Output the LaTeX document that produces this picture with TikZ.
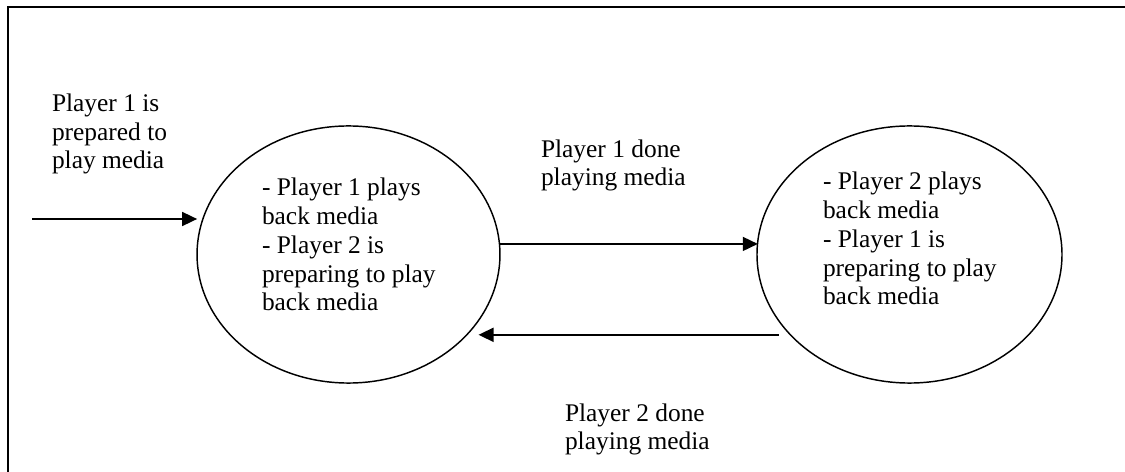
\documentclass[tikz,border=0pt]{standalone}
\usepackage{fontspec}
\setmainfont{Liberation Serif}
\usetikzlibrary{arrows.meta,shapes.geometric}
\begin{document}
\begin{tikzpicture}[x=0.48pt,y=-0.48pt,
  state/.style={draw,ellipse,line width=0.7pt,inner sep=0pt,outer sep=0pt,
    minimum height=123.4pt},
  txt/.style={align=left,inner sep=0pt,outer sep=0pt,anchor=base west,
    font=\fontsize{12.2}{13.9}\selectfont},
  flow/.style={line width=0.85pt,-{Triangle[length=7.2pt,width=6.7pt]}}]
  \useasboundingbox (0,0) rectangle (1125,472);
  % outer frame, running past the right and bottom edges
  \draw[line width=1.2pt] (1140,484) -- (8,484) -- (8,7) -- (1140,7);

  % the two states
  \node[state,minimum width=145.4pt] (e1) at (348.5,254.5) {};
  \node[state,minimum width=146.4pt] (e2) at (909.5,254.5) {};
  % (anchor base west = baseline of the last line)
  \node[txt] (t1) at (262,311) {- Player 1 plays\\back media\\- Player 2 is\\preparing to play\\back media};
  \node[txt] (t2) at (823,305) {- Player 2 plays\\back media\\- Player 1 is\\preparing to play\\back media};

  % transition labels
  \node[txt] (l0) at (52,169) {Player 1 is\\prepared to\\play media};
  \node[txt] (l1) at (541,186) {Player 1 done\\playing media};
  \node[txt] (l2) at (565,450) {Player 2 done\\playing media};

  % transitions
  \coordinate (in) at (32,219);
  \draw[flow,shorten >=2.9pt] (in) -- (in -| e1.166.3);
  \draw[flow] (e1.4.36) -- (e1.4.36 -| e2.175.67);
  \draw[flow,shorten <=5.5pt,shorten >=5.5pt] (e2.214.65) -- (e2.214.65 -| e1.-34.7);
\end{tikzpicture}
\end{document}
